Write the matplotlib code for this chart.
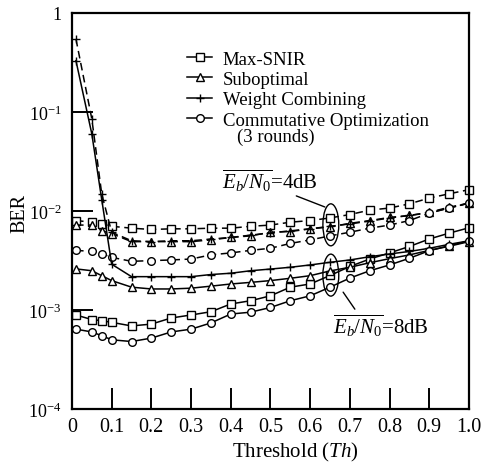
import matplotlib

matplotlib.use('Agg')
import matplotlib.pyplot as plt
from matplotlib.patches import Ellipse

plt.rcParams['font.family'] = 'Liberation Serif'
plt.rcParams['mathtext.fontset'] = 'custom'
plt.rcParams['mathtext.rm'] = 'Liberation Serif'
plt.rcParams['mathtext.it'] = 'Liberation Serif:italic'

th = [0.01, 0.05, 0.075, 0.1, 0.15, 0.2, 0.25, 0.3, 0.35, 0.4, 0.45, 0.5,
      0.55, 0.6, 0.65, 0.7, 0.75, 0.8, 0.85, 0.9, 0.95, 1.0]

# Eb/N0 = 4dB
maxsnir_4 = [0.0080, 0.0077, 0.0074, 0.0070, 0.0067, 0.0065, 0.0066, 0.0066, 0.0067, 0.0067, 0.0070,
             0.0072, 0.0077, 0.0080, 0.0085, 0.0092, 0.0102, 0.0107, 0.0118, 0.0135, 0.0149, 0.0164]
sub_4 = [0.0072, 0.0072, 0.0063, 0.0059, 0.0049, 0.0049, 0.0049, 0.0049, 0.0051, 0.0054, 0.0056,
         0.0061, 0.0062, 0.0066, 0.0069, 0.0075, 0.0080, 0.0086, 0.0090, 0.0097, 0.0109, 0.0120]
wc_4 = [0.546, 0.085, 0.0148, 0.0061, 0.0050, 0.0049, 0.0050, 0.0050, 0.0052, 0.0054, 0.0057,
        0.0060, 0.0063, 0.0066, 0.0070, 0.0074, 0.0079, 0.0085, 0.0090, 0.0096, 0.0107, 0.0120]
co_4 = [0.0040, 0.0039, 0.0037, 0.0034, 0.0031, 0.00315, 0.0032, 0.00327, 0.0036, 0.00377, 0.0040,
        0.0042, 0.0047, 0.0051, 0.0056, 0.0061, 0.0067, 0.0072, 0.0080, 0.0095, 0.0107, 0.0120]

# Eb/N0 = 8dB
maxsnir_8 = [0.00089, 0.00080, 0.00078, 0.00075, 0.00069, 0.00072, 0.00083, 0.00089, 0.00096, 0.00115, 0.00124,
             0.00139, 0.00170, 0.00183, 0.00223, 0.00275, 0.00327, 0.00377, 0.00438, 0.00521, 0.00597, 0.00676]
sub_8 = [0.0026, 0.00249, 0.00222, 0.00198, 0.0017, 0.00163, 0.00163, 0.00166, 0.00174, 0.00183, 0.0019,
         0.00198, 0.00209, 0.00222, 0.00248, 0.0027, 0.0030, 0.0033, 0.0036, 0.0040, 0.0044, 0.0049]
wc_8 = [0.33, 0.060, 0.013, 0.0029, 0.00217, 0.00217, 0.00217, 0.00217, 0.00228, 0.00235, 0.00249,
        0.00259, 0.0027, 0.00285, 0.00303, 0.0032, 0.00345, 0.00368, 0.0039, 0.0042, 0.0046, 0.0050]
co_8 = [0.00064, 0.00060, 0.00055, 0.00050, 0.00048, 0.00052, 0.00060, 0.00064, 0.00074, 0.00091, 0.00095,
        0.00106, 0.00124, 0.00139, 0.00170, 0.00210, 0.00249, 0.00285, 0.00333, 0.00397, 0.00446, 0.00498]

names = ['Max-SNIR', 'Suboptimal', 'Weight Combining', 'Commutative Optimization']
markers = ['s', '^', '+', 'o']
sizes = [5.5, 6, 6, 5.5]

x_ticks = [0, 0.1, 0.2, 0.3, 0.4, 0.5, 0.6, 0.7, 0.8, 0.9, 1.0]
x_labels = ['0', '0.1', '0.2', '0.3', '0.4', '0.5', '0.6', '0.7', '0.8', '0.9', '1.0']
y_ticks = [1e-4, 1e-3, 1e-2, 1e-1, 1]
y_labels = ['$10^{-4}$', '$10^{-3}$', '$10^{-2}$', '$10^{-1}$', '1']

fig = plt.figure(figsize=(4.83, 4.64), dpi=100)
ax = fig.add_axes([0.149, 0.1164, 0.822, 0.8536])

for ys, m, ms in zip([maxsnir_4, sub_4, wc_4, co_4], markers, sizes):
    ax.plot(th, ys, color='k', lw=1.1, ls=(0, (5, 3)), marker=m, ms=ms,
            mfc='white', mec='k', mew=1.0, clip_on=False)

handles = []
for ys, m, ms, name in zip([maxsnir_8, sub_8, wc_8, co_8], markers, sizes, names):
    h, = ax.plot(th, ys, color='k', lw=1.1, marker=m, ms=ms,
                 mfc='white', mec='k', mew=1.0, clip_on=False, label=name)
    handles.append(h)

ax.set_yscale('log')
ax.set_xlim(0, 1.0)
ax.set_ylim(1e-4, 1)
ax.set_xticks(x_ticks)
ax.set_xticklabels(x_labels)
ax.set_yticks(y_ticks)
ax.set_yticklabels(y_labels)
ax.minorticks_off()
ax.tick_params(direction='in', length=15, width=1.4)
ax.tick_params(axis='x', pad=6, labelsize=14.5)
ax.tick_params(axis='y', pad=7.5, labelsize=13)

for s in ax.spines.values():
    s.set_linewidth(1.6)

ax.set_xlabel('Threshold ($Th$)', fontsize=15, va='top')
ax.xaxis.set_label_coords(0.562, -0.078)
ax.set_ylabel('BER', fontsize=14.5, va='center')
ax.yaxis.set_label_coords(-0.131, 0.497)

ax.legend(handles=handles, loc='upper left', bbox_to_anchor=(0.29, 0.905),
          frameon=False, fontsize=13.5, borderpad=0, borderaxespad=0,
          handlelength=1.35, handletextpad=0.55, labelspacing=0.17)
ax.text(0.416, 0.678, '(3 rounds)', transform=ax.transAxes, fontsize=13.5, va='baseline')

# circles grouping the two Eb/N0 sets at Th = 0.65
for cy in [0.465, 0.338]:
    ax.add_patch(Ellipse((0.652, cy), 0.040, 0.106, transform=ax.transAxes,
                         fill=False, ec='k', lw=1.0))

ax.annotate(r'$\overline{E_b/N_0}$=4dB', xy=(0.637, 0.51), xytext=(0.378, 0.545),
            xycoords='axes fraction', textcoords='axes fraction', fontsize=15,
            va='bottom', arrowprops=dict(arrowstyle='-', lw=1.0, shrinkA=0, shrinkB=0,
                                         relpos=(0.7, 0)))
ax.annotate(r'$\overline{E_b/N_0}$=8dB', xy=(0.683, 0.295), xytext=(0.657, 0.245),
            xycoords='axes fraction', textcoords='axes fraction', fontsize=15,
            va='top', arrowprops=dict(arrowstyle='-', lw=1.0, shrinkA=0, shrinkB=0,
                                      relpos=(0.25, 1)))

fig.savefig('out.png', dpi=100)
